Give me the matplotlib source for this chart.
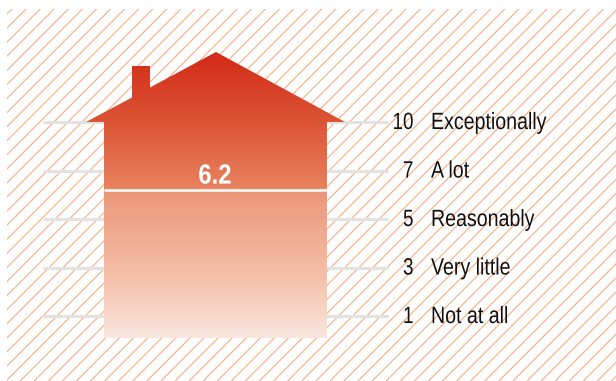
import numpy as np
import matplotlib
matplotlib.use("Agg")
import matplotlib.pyplot as plt
from matplotlib.patches import Polygon, Rectangle
from matplotlib.patheffects import AbstractPathEffect
from matplotlib.colors import LinearSegmentedColormap
from matplotlib.transforms import Affine2D

# Scale shown next to the house
LEVELS = [1, 3, 5, 7, 10]
LEVEL_NAMES = ["Not at all", "Very little", "Reasonably", "A lot", "Exceptionally"]
SCORE = 6.2

WIDTH, HEIGHT = 616, 381

plt.rcParams["font.family"] = ["Liberation Sans", "DejaVu Sans"]


class Narrow(AbstractPathEffect):
    """Squeeze text sideways around its anchor, there is no narrow font here."""

    def __init__(self, factor, anchor_x):
        super().__init__()
        self.squeeze = Affine2D().translate(-anchor_x, 0).scale(factor, 1).translate(anchor_x, 0)

    def draw_path(self, renderer, gc, tpath, affine, rgbFace=None):
        renderer.draw_path(gc, tpath, affine + self.squeeze, rgbFace)


fig = plt.figure(figsize=(WIDTH / 100, HEIGHT / 100), dpi=100)
ax = fig.add_axes([0, 0, 1, 1])
ax.axis("off")

# shapes below are laid out in pixels, origin top left
px = Affine2D().scale(1, -1).translate(0, HEIGHT)


def level_pos(value):
    return np.interp(value, LEVELS, np.arange(len(LEVELS)))


# diagonal hatching behind everything
hatch_box = Rectangle((7, 9), WIDTH - 7, HEIGHT - 9, transform=px, fill=False, lw=0)
ax.add_patch(hatch_box)
for c in np.arange(-7.2, WIDTH + HEIGHT + 14, 14.08):
    line, = ax.plot([c - HEIGHT, c], [HEIGHT, 0], color="#F5A97C", lw=0.75, transform=px, zorder=1)
    line.set_clip_path(hatch_box)

# grey guide lines, the house covers the middle part
for lev in LEVELS:
    y = level_pos(lev)
    ax.plot([43, 388], [y, y], color="#E2E2E0", lw=2.2, solid_capstyle="butt", zorder=2)

# house with the vertical fade
outline = [(216, 52), (345, 122), (327, 122), (327, 338.5), (104, 338.5), (104, 122), (86, 122),
           (132, 97.5), (132, 66), (150, 66), (150, 87.5)]
house = Polygon(outline, closed=True, transform=px, facecolor="none", edgecolor="none", zorder=3)
ax.add_patch(house)

fade = LinearSegmentedColormap.from_list(
    "fade", [(0, "#D32A18"), (0.24, "#DC5334"), (0.478, "#E8825F"),
             (0.485, "#EB9677"), (0.8, "#F4C2AB"), (1, "#FBE6DE")])
grad = ax.imshow(np.linspace(0, 1, 286).reshape(-1, 1), cmap=fade, aspect="auto", zorder=3,
                 extent=(80, 350, 338.5, 52), transform=px)
grad.set_clip_path(house)

# levels are evenly spaced on the axis, one step = 48.5 px
ax.set_xlim(0, WIDTH)
ax.set_ylim((316 - HEIGHT) / 48.5, 316 / 48.5)

# line and number for the score
score_y = level_pos(SCORE)
ax.plot([104, 327], [score_y, score_y], color="white", lw=1.8, solid_capstyle="butt", zorder=4)
ax.text(215, score_y + 0.13, f"{SCORE}", color="white", fontsize=20, fontweight="bold",
        ha="center", va="baseline", zorder=5, path_effects=[Narrow(0.86, 215)])

for lev, name in zip(LEVELS, LEVEL_NAMES):
    y = level_pos(lev) + 0.03
    ax.text(413.5, y, str(lev), fontsize=17, ha="right", va="center_baseline", color="#111111",
            zorder=5, path_effects=[Narrow(0.8, 413.5)])
    ax.text(431, y, name, fontsize=17, ha="left", va="center_baseline", color="#111111",
            zorder=5, path_effects=[Narrow(0.83, 431)])

fig.savefig("out.png", dpi=100)
